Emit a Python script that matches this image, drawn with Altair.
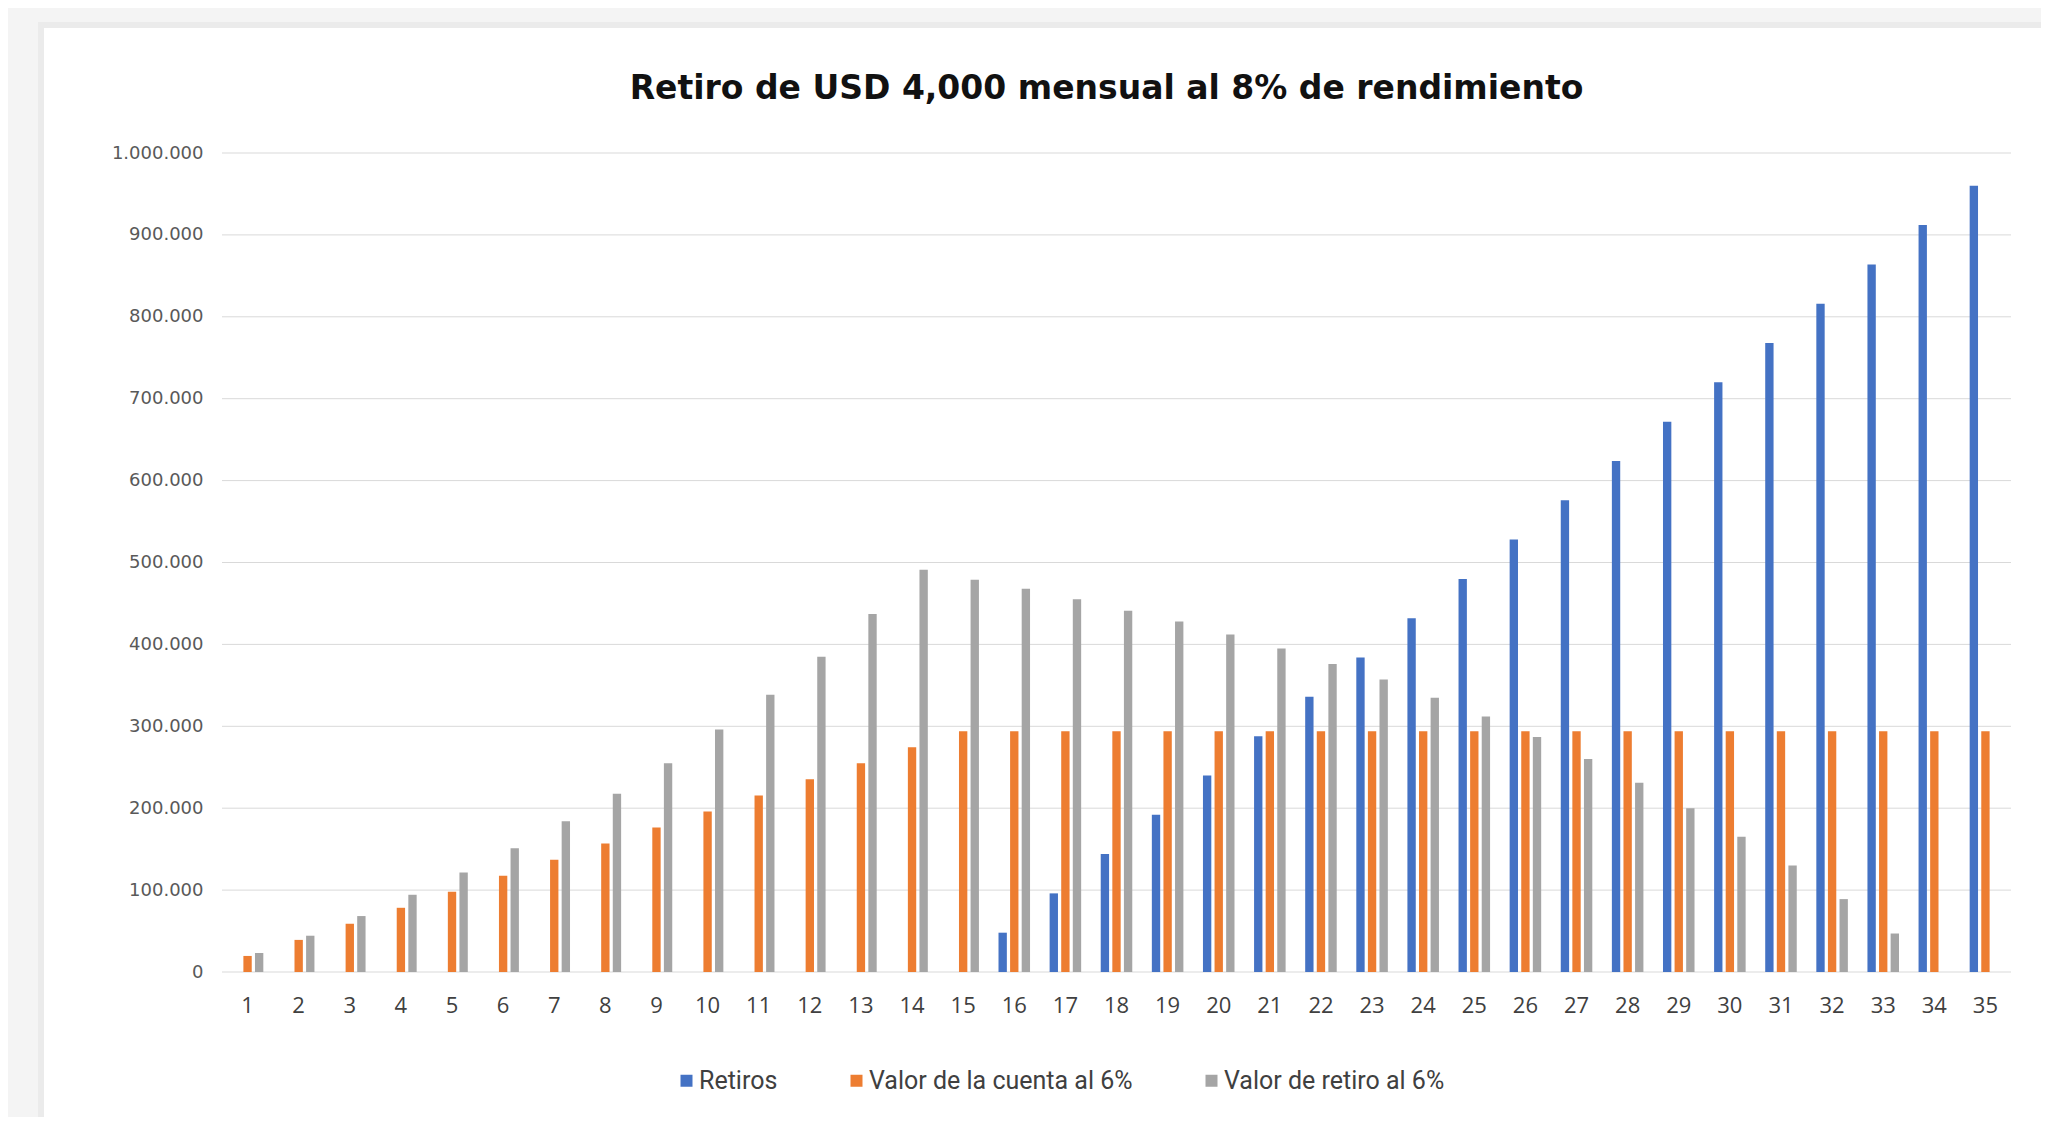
import altair as alt
import pandas as pd

# ---------------- data ----------------
years = list(range(1, 36))
series = ["Retiros", "Valor de la cuenta al 6%", "Valor de retiro al 6%"]
colors = ["#4472C4", "#ED7D31", "#A5A5A5"]

retiros = [None] * 15 + [
    48000, 96000, 144000, 192000, 240000, 288000, 336000, 384000, 432000, 480000,
    528000, 576000, 624000, 672000, 720000, 768000, 816000, 864000, 912000, 960000,
]
valor_cuenta = [
    19600, 39200, 58800, 78400, 98000, 117600, 137200, 156800, 176400, 196000,
    215600, 235200, 254800, 274400, 294000, 294000, 294000, 294000, 294000, 294000,
    294000, 294000, 294000, 294000, 294000, 294000, 294000, 294000, 294000, 294000,
    294000, 294000, 294000, 294000, 294000,
]
valor_retiro = [
    23200, 44300, 68300, 94300, 121500, 151000, 184000, 217500, 255000, 296000,
    338600, 385000, 437000, 491000, 479000, 468000, 455000, 441000, 428000, 412000,
    395000, 376000, 357000, 335000, 312000, 287000, 260000, 231000, 200000, 165000,
    130000, 89000, 47000, None, None,
]
y_ticks = [0, 100000, 200000, 300000, 400000, 500000, 600000, 700000, 800000, 900000, 1000000]

rows = []
for name, vals in zip(series, [retiros, valor_cuenta, valor_retiro]):
    for yr, v in zip(years, vals):
        if v is not None:
            rows.append({"anio": yr, "serie": name, "valor": v})
df = pd.DataFrame(rows)
grid_df = pd.DataFrame({"valor": y_ticks})

W, H = 1789, 819
PAD_L, PAD_T = 214, 145
TOTAL_W, TOTAL_H = 2033, 1109
PAD_R = TOTAL_W - PAD_L - W
PAD_B = TOTAL_H - PAD_T - H

yscale = alt.Scale(domain=[0, 1000000], nice=False)
yaxis = alt.Axis(
    title=None, values=y_ticks, ticks=False, domain=False, grid=False,
    labelFont="DejaVu Sans", labelFontSize=18, labelColor="#595959",
    labelPadding=19, zindex=1,
    labelExpr="replace(replace(format(datum.value, ','), ',', '.'), ',', '.')",
)

# decorative card with a soft shadow
shadow = alt.Chart(alt.Data(values=[{}])).mark_rect(color="#ebebeb").encode(
    x=alt.value(-184), x2=alt.value(W + PAD_R + 10),
    y=alt.value(-131), y2=alt.value(H + PAD_B + 10),
)
card = alt.Chart(alt.Data(values=[{}])).mark_rect(color="#ffffff").encode(
    x=alt.value(-178), x2=alt.value(W + PAD_R + 10),
    y=alt.value(-125), y2=alt.value(H + PAD_B + 10),
)

grid = alt.Chart(grid_df).mark_rule(color="#d9d9d9", strokeWidth=1).encode(
    y=alt.Y("valor:Q", scale=yscale, axis=yaxis)
)

bars = alt.Chart(df).mark_bar().encode(
    x=alt.X(
        "anio:O",
        sort=years,
        scale=alt.Scale(paddingInner=0.383, paddingOuter=0.1915),
        axis=alt.Axis(
            title=None, labelAngle=0, ticks=False, domain=False, grid=False,
            labelFont="Open Sans", labelFontSize=22, labelColor="#404040",
            labelBaseline="middle", labelPadding=33, zindex=1,
        ),
    ),
    xOffset=alt.XOffset(
        "serie:N", sort=series,
        scale=alt.Scale(domain=series, paddingInner=0.28, paddingOuter=0.0),
    ),
    y=alt.Y("valor:Q", scale=yscale, axis=yaxis),
    color=alt.Color(
        "serie:N",
        sort=series,
        scale=alt.Scale(domain=series, range=colors),
        legend=alt.Legend(
            title=None, orient="none", legendX=452, legendY=915,
            direction="horizontal", symbolType="square", symbolSize=144,
            symbolStrokeWidth=0, labelFont="Roboto", labelFontSize=25,
            labelColor="#404040", columnPadding=66, labelOffset=0, padding=0,
            labelLimit=500,
        ),
    ),
)

chart = alt.layer(shadow, card, grid, bars).properties(
    width=W,
    height=H,
    autosize=alt.AutoSizeParams(type="none"),
    padding={"left": PAD_L, "top": PAD_T, "right": PAD_R, "bottom": PAD_B},
    title=alt.TitleParams(
        text="Retiro de USD 4,000 mensual al 8% de rendimiento",
        font="DejaVu Sans", fontSize=33, fontWeight=700, color="#111111",
        anchor="middle", frame="group", offset=-84, dx=-10,
    ),
).configure(background="#f4f4f4").configure_view(stroke=None)

chart.save("out.html", embed_options={"renderer": "svg", "actions": False})
